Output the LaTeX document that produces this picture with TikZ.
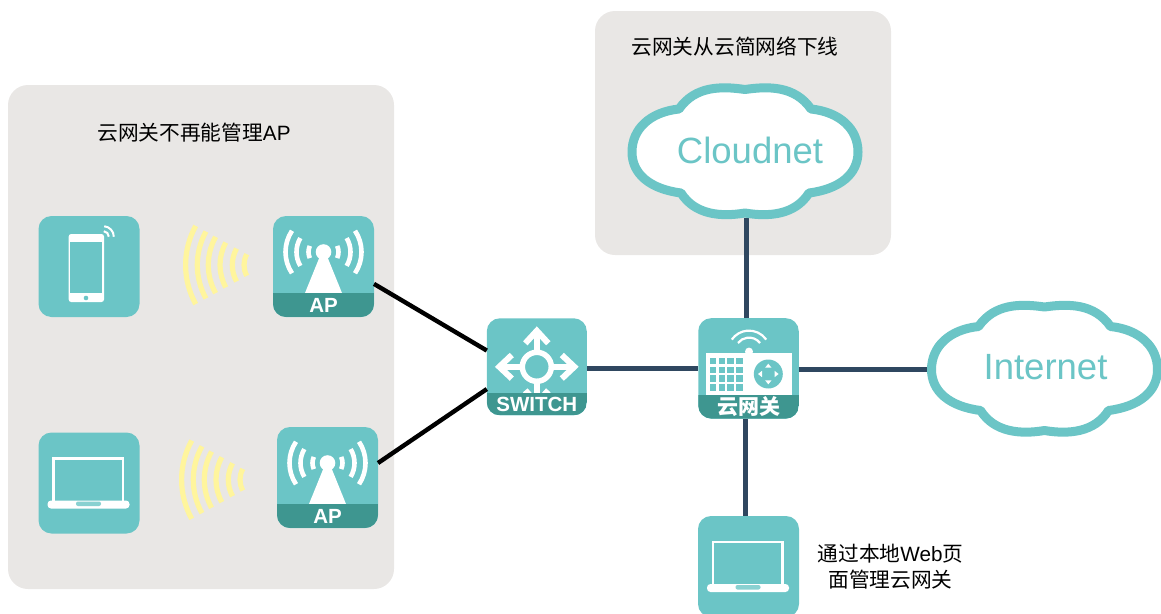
\documentclass[tikz,border=0pt]{standalone}
\usepackage{fontspec}
\setmainfont{Liberation Sans}
\newfontfamily\cjk{Noto Sans CJK SC}
\definecolor{panelc}{HTML}{E9E7E5}
\definecolor{iconc}{HTML}{6BC5C6}
\definecolor{bandc}{HTML}{3E9690}
\definecolor{linec}{HTML}{2F4760}
\definecolor{wavec}{HTML}{FFF59D}
\tikzset{
  panel/.style={fill=panelc,rounded corners=20pt},
  iconbox/.style={rectangle,fill=iconc,rounded corners=13pt,inner sep=0pt,outer sep=0pt,minimum width=101pt,minimum height=101pt},
  blackline/.style={draw=black,line width=4.4pt},
  darkline/.style={draw=linec,line width=4.8pt},
  cloudline/.style={draw=iconc,fill=white,line width=9pt,line join=round},
  cloudbox/.style={rectangle,inner sep=0pt,outer sep=0pt,minimum width=236pt,minimum height=134pt},
  cloudlabel/.style={text=iconc,font=\fontsize{36.5}{38}\selectfont,anchor=base,inner sep=0pt},
  caption/.style={text=black,font=\fontsize{20.7}{26}\selectfont,align=center,inner sep=0pt},
  bandlabel/.style={text=white,font=\fontsize{20.5}{22}\selectfont\bfseries,inner sep=0pt},
  wave/.style={draw=wavec,line width=5.2pt},
  wline/.style={draw=white,line width=4.6pt},
}
\newcommand{\arcat}[5]{([shift={(#4:#3pt)}]#1,#2) arc[start angle=#4,end angle=#5,radius=#3pt]}
\newcommand{\band}[3]{\begin{scope}\clip[rounded corners=13pt] (0,0) rectangle (#1,#2);\fill[bandc] (0,#3) rectangle (#1,#2);\end{scope}}
\newcommand{\waves}[2]{\foreach \r in {80.7,69,58,46.3,34,22.3}{\draw[wave] \arcat{#1}{#2}{\r}{151}{209};}}
\newcommand{\antenna}{%
  \fill[white] (50.5,36) circle[radius=7.8pt];
  \fill[white] (47,40) -- (54,40) -- (69,77) -- (32,77) -- cycle;
  \foreach \r/\a in {15/24,27/31,38/34}{
    \draw[wline] \arcat{50.5}{36}{\r}{180-\a}{180+\a};
    \draw[wline] \arcat{50.5}{36}{\r}{-\a}{\a};
  }%
}
\newcommand{\laptop}{%
  \draw[white,line width=2.2pt] (15,71) -- (15,26) -- (84.5,26) -- (84.5,71);
  \fill[white,rounded corners=3.5pt] (9,68) rectangle (91,76);
  \fill[iconc!80!white,rounded corners=2pt] (37.5,69) rectangle (62.5,73.5);
}
\begin{document}
\begin{tikzpicture}[x=1pt,y=-1pt]
\useasboundingbox (0,0) rectangle (1161,613);
\clip (0,0) rectangle (1161,613);
% panels
\fill[panel] (8,85) rectangle (394,589);
\fill[panel] (595,11) rectangle (891,255);
% nodes
\node[iconbox] (phone) at (89,266.5) {};
\node[iconbox] (ap1) at (323.5,266.5) {};
\node[iconbox] (lap1) at (89,483) {};
\node[iconbox] (ap2) at (327.5,477.5) {};
\node[iconbox,minimum width=100pt,minimum height=97pt] (sw) at (536.8,366.8) {};
\node[iconbox,minimum width=100.5pt,minimum height=100.5pt] (gw) at (748.5,368.4) {};
\node[iconbox] (lap2) at (748.5,566.5) {};
\node[cloudbox] (cloudnet) at (745,151) {};
\node[cloudbox] (internet) at (1044.5,368.5) {};
% connectors
\draw[blackline] (ap1.-19) -- (sw.162.8);
\draw[blackline] (ap2.16) -- (sw.204.2);
\draw[darkline] (sw.east |- gw.west) -- (gw.west);
\draw[darkline] (gw.-1) -- (gw.-1 -| internet.west);
\draw[darkline] (gw.92.8) -- (gw.92.8 |- cloudnet.south);
\draw[darkline] (gw.267.2) -- (gw.267.2 |- lap2.north);
% clouds
\foreach \cx/\cy in {745/151,1044.5/368.5}{
\begin{scope}[shift={(\cx,\cy)}]
\draw[cloudline] (0,-61.5) .. controls (-24,-65) and (-50,-65) .. (-66,-42)
  .. controls (-95,-39) and (-113,-22) .. (-113,1)
  .. controls (-113,23) and (-95,38) .. (-64,42)
  .. controls (-50,64) and (-24,66) .. (0,62)
  .. controls (24,66) and (50,64) .. (64,42)
  .. controls (95,38) and (113,23) .. (113,1)
  .. controls (113,-22) and (95,-39) .. (66,-42)
  .. controls (50,-65) and (24,-65) .. (0,-61.5) -- cycle;
\end{scope}}
\node[cloudlabel] (cloudnettext) at (750,163.5) {Cloudnet};
\node[cloudlabel] (internettext) at (1045.5,379.5) {Internet};
% captions
\node[caption] (cap1) at (194,133) {{\cjk 云网关不再能管理}AP};
\node[caption] (cap2) at (735,46.5) {\cjk 云网关从云简网络下线};
\node[caption] (cap3) at (890.5,566.5) {{\cjk 通过本地}Web{\cjk 页}\\{\cjk 面管理云网关}};
% waves
\waves{266.3}{265}
\waves{262.3}{479.7}
% phone
\begin{scope}[shift={(38.5,216)}]
\fill[white,rounded corners=2.5pt] (30.2,18) rectangle (65.5,86);
\fill[iconc] (31.8,25.7) rectangle (63.8,77.3);
\fill[iconc] (47.5,82) circle[radius=2.3pt];
\draw[white,line width=2pt] \arcat{64.8}{20.7}{5.5}{0}{85};
\draw[white,line width=2pt] \arcat{64.8}{20.7}{10.5}{0}{85};
\end{scope}
% AP 1
\begin{scope}[shift={(273,216)}]
\antenna
\band{101}{101}{76.7}
\node[bandlabel] (ap1label) at (50.5,89) {AP};
\end{scope}
% laptop 1
\begin{scope}[shift={(38.5,432.5)}]
\laptop
\end{scope}
% AP 2
\begin{scope}[shift={(277,427)}]
\antenna
\band{101}{101}{77}
\node[bandlabel] (ap2label) at (50.5,89.5) {AP};
\end{scope}
% switch
\begin{scope}[shift={(486.8,318.3)}]
\draw[white,line width=6pt] (50,33) -- (50,14);
\draw[white,line width=6pt] (50,62) -- (50,76);
\draw[white,line width=6pt] (35,48.5) -- (14,48.5);
\draw[white,line width=6pt] (65,48.5) -- (86,48.5);
\draw[white,line width=6pt] (38.5,25) -- (50,12.5) -- (61.5,25);
\draw[white,line width=6pt] (38.5,72) -- (50,85) -- (61.5,72);
\draw[white,line width=6pt] (25,36.7) -- (12.5,48.5) -- (25,60.3);
\draw[white,line width=6pt] (75,36.7) -- (87.5,48.5) -- (75,60.3);
\draw[white,line width=5.5pt] (50,48.5) circle[radius=14.5pt];
\band{100}{97}{74.7}
\node[bandlabel] (swlabel) at (50,86) {SWITCH};
\end{scope}
% gateway
\begin{scope}[shift={(698.3,318.1)}]
\draw[white,line width=2.2pt] \arcat{50.7}{33.5}{21}{35}{145};
\draw[white,line width=2.2pt] \arcat{50.7}{33.5}{14}{38}{142};
\fill[white] (50.7,33.5) circle[radius=4pt];
\fill[white] (7.7,35.2) rectangle (93.4,78);
\foreach \i in {0,1,2,3}{\foreach \j in {0,1,2,3}{
  \fill[iconc] (11.4+8.8*\i,39.6+8.8*\j) rectangle (18+8.8*\i,46.2+8.8*\j);
}}
\fill[iconc] (70,55.9) circle[radius=14.5pt];
\fill[white] (70,45.6) -- (73.2,49.6) -- (66.8,49.6) -- cycle;
\fill[white] (70,66.2) -- (73.2,62.2) -- (66.8,62.2) -- cycle;
\fill[white] (59.7,55.9) -- (63.7,52.7) -- (63.7,59.1) -- cycle;
\fill[white] (80.3,55.9) -- (76.3,52.7) -- (76.3,59.1) -- cycle;
\band{100.5}{100.5}{76.9}
\node[bandlabel,font=\fontsize{21}{22}\selectfont\cjk\bfseries] (gwlabel) at (50.7,88.5) {云网关};
\end{scope}
% laptop 2
\begin{scope}[shift={(698,516)}]
\laptop
\end{scope}
\end{tikzpicture}
\end{document}
